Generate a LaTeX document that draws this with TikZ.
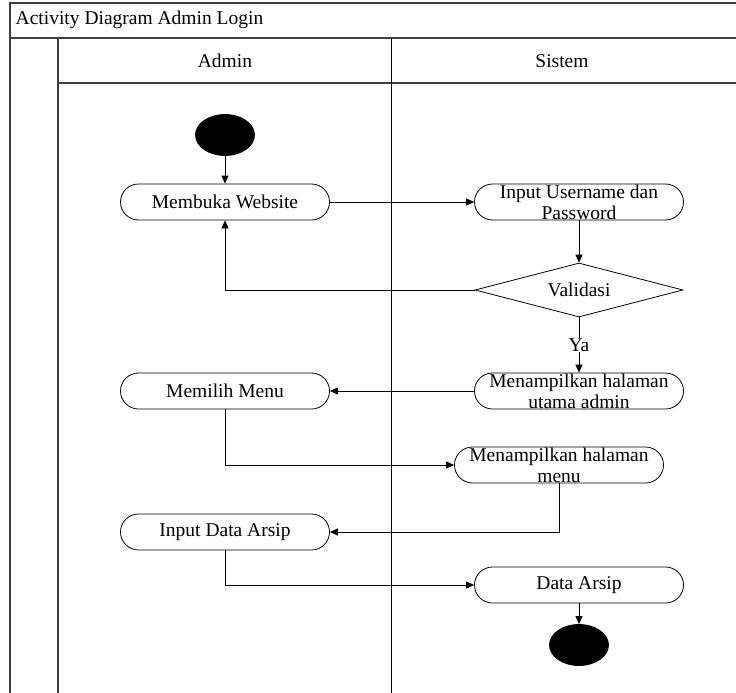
\documentclass[tikz,border=0pt]{standalone}
\usepackage{fontspec}
\setmainfont{Liberation Serif}
\usetikzlibrary{shapes.geometric,arrows.meta}

\tikzset{
  act/.style={draw, rectangle, rounded corners=18pt, minimum width=209pt,
    minimum height=36pt, inner sep=0pt, align=center},
  dot/.style={draw, fill=black, ellipse, minimum width=59pt, minimum height=41pt},
  lane/.style={line width=1.3pt, draw=black!75},
  flow/.style={-{Triangle[length=8pt,width=7pt]}, line width=0.8pt}
}

\begin{document}
\begin{tikzpicture}[x=1pt, y=-1pt, line width=0.8pt,
    font=\fontsize{19.5}{21}\selectfont]
  \useasboundingbox (0,0) rectangle (736,693);
  % swimlane frame
  \draw[lane] (10,693) -- (10,3) -- (736,3);
  \draw[lane] (10,38) -- (736,38);
  \draw[lane] (58,38) -- (58,693);
  \draw[lane] (58,83) -- (736,83);
  \draw[line width=1pt] (391,38) -- (391,693);
  \node[anchor=west] (judul) at (12,20) {Activity Diagram Admin Login};
  \node (admin) at (225,61) {Admin};
  \node (sistem) at (562,61) {Sistem};
  % nodes
  \node[dot] (mulai) at (225,135) {};
  \node[act] (buka) at (225,202) {Membuka Website};
  \node[act] (input) at (579,202) {Input Username dan\\Password};
  \node[draw, diamond, aspect=3.85, minimum width=208pt, minimum height=54pt,
    inner sep=0pt] (valid) at (579,290) {Validasi};
  \node[act] (utama) at (579,391) {Menampilkan halaman\\utama admin};
  \node[act] (pilih) at (225,391) {Memilih Menu};
  \node[act] (menu) at (559,465) {Menampilkan halaman\\menu};
  \node[act] (arsip) at (225,532) {Input Data Arsip};
  \node[act] (data) at (579,585) {Data Arsip};
  \node[dot] (selesai) at (579,645) {};
  % connectors
  \draw[flow] (mulai) -- (buka);
  \draw[flow] (buka) -- (input);
  \draw[flow] (input) -- (valid);
  \draw[flow] (valid.west) -| (buka.south);
  \draw[flow] (valid) -- node[fill=white, inner sep=1pt] {Ya} (utama);
  \draw[flow] (utama) -- (pilih);
  \draw[flow] (pilih.south) |- (menu.west);
  \draw[flow] (menu.south) |- (arsip.east);
  \draw[flow] (arsip.south) |- (data.west);
  \draw[flow] (data) -- (selesai);
\end{tikzpicture}
\end{document}
